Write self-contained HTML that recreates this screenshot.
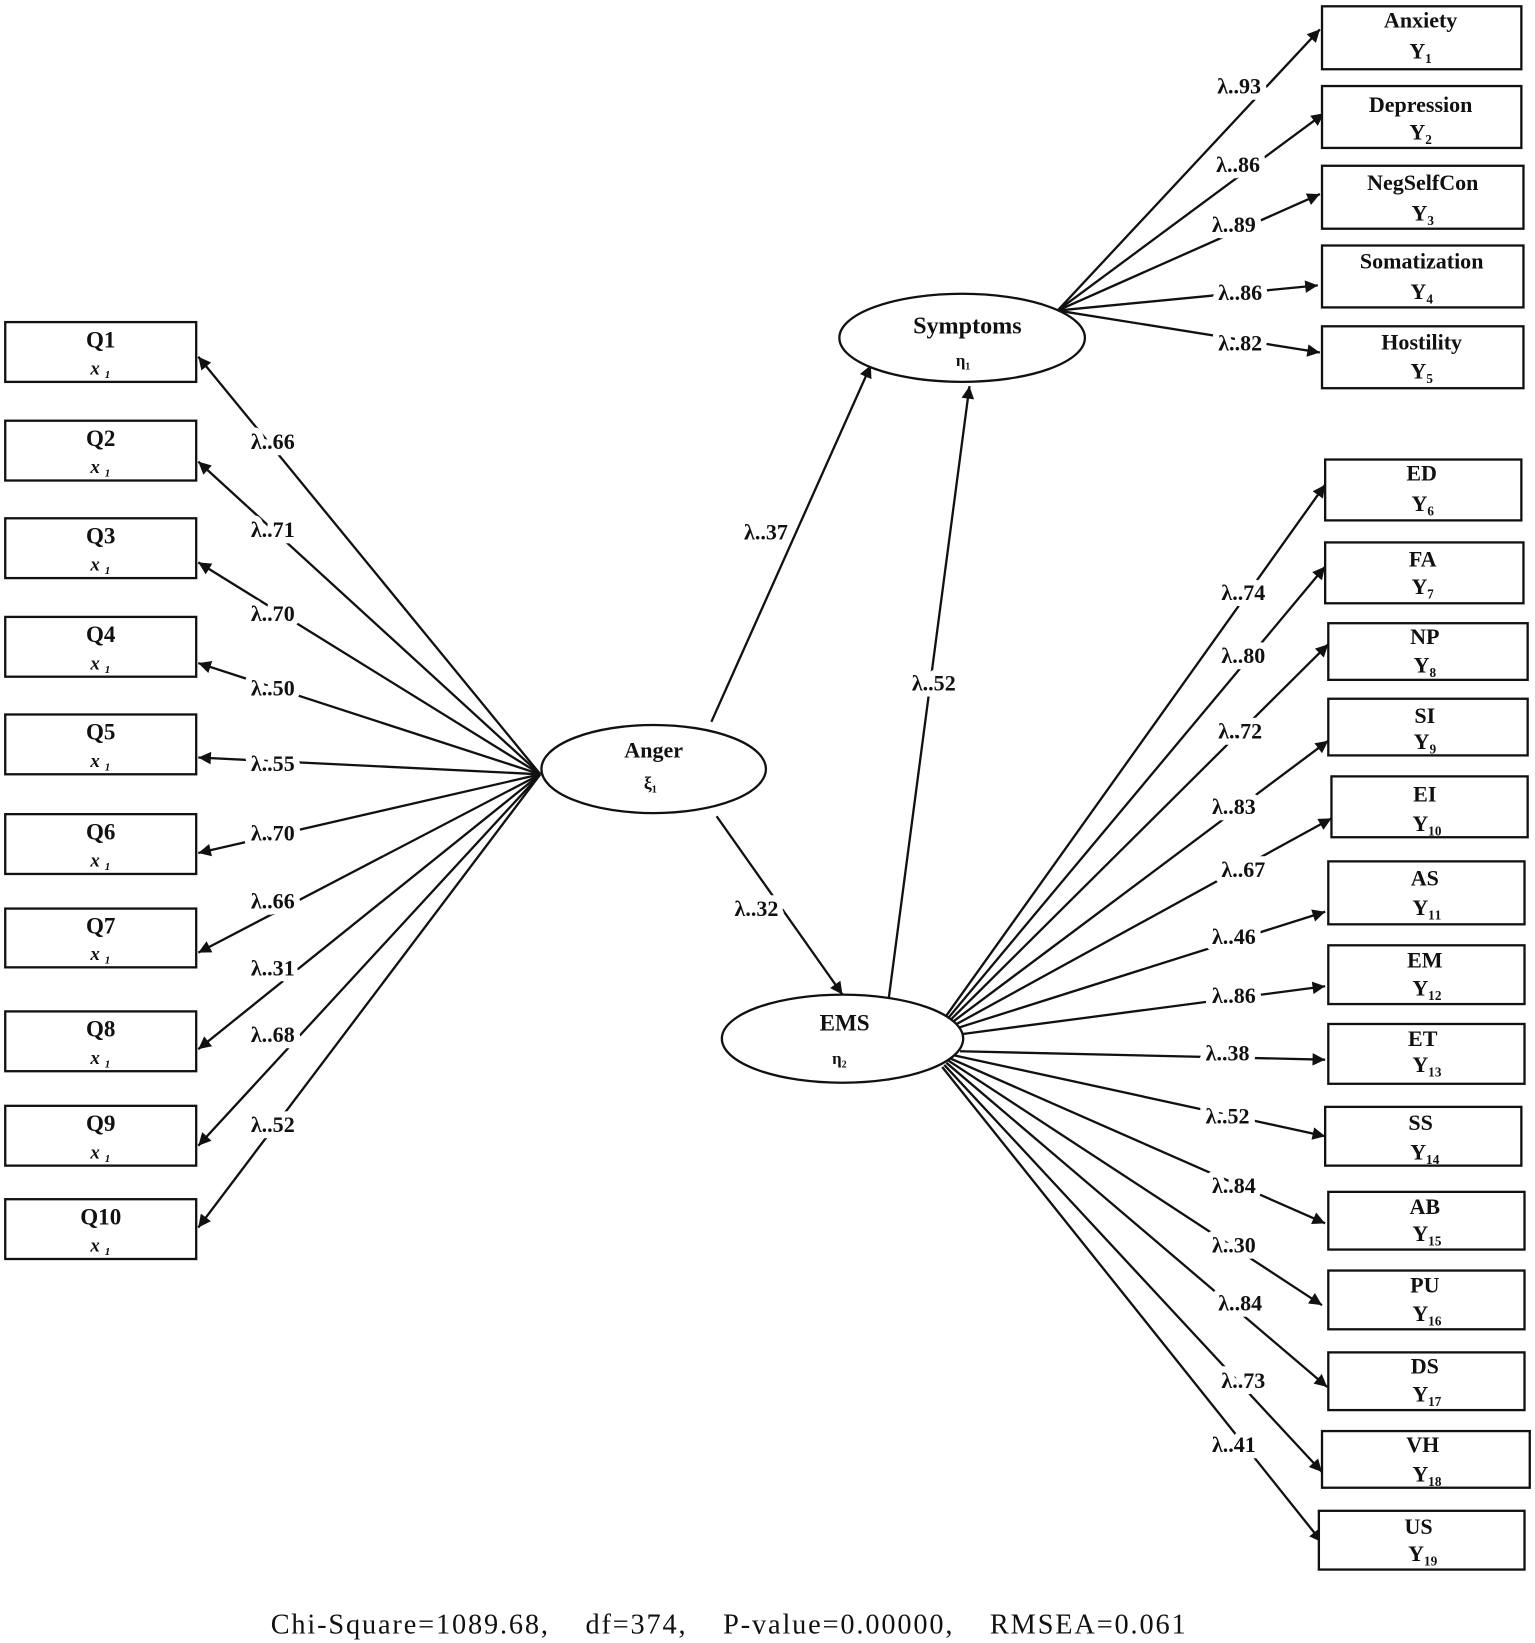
<!DOCTYPE html>
<html><head><meta charset="utf-8"><style>
html,body{margin:0;padding:0;background:#fff;}
svg{display:block}
text{font-family:"Liberation Serif",serif;font-weight:bold;fill:#111;}
</style></head><body>
<svg width="1535" height="1643" viewBox="0 0 1463 1566" preserveAspectRatio="none" xmlns="http://www.w3.org/2000/svg">
<defs>
<marker id="b" viewBox="0 0 10 10" refX="10" refY="5" markerWidth="14" markerHeight="12" markerUnits="userSpaceOnUse" orient="auto"><path d="M0,0L10,5L0,10z" fill="#111"/></marker></defs>
<g stroke="#111" stroke-width="2.2" fill="none">
<line x1="515" y1="738" x2="189" y2="340" marker-end="url(#b)"/>
<line x1="515" y1="738" x2="189" y2="440" marker-end="url(#b)"/>
<line x1="515" y1="738" x2="189" y2="536" marker-end="url(#b)"/>
<line x1="515" y1="738" x2="189" y2="632" marker-end="url(#b)"/>
<line x1="515" y1="738" x2="189" y2="722" marker-end="url(#b)"/>
<line x1="515" y1="738" x2="189" y2="813" marker-end="url(#b)"/>
<line x1="515" y1="738" x2="189" y2="908" marker-end="url(#b)"/>
<line x1="515" y1="738" x2="189" y2="1000" marker-end="url(#b)"/>
<line x1="515" y1="738" x2="189" y2="1092" marker-end="url(#b)"/>
<line x1="515" y1="738" x2="189" y2="1170" marker-end="url(#b)"/>
<line x1="678" y1="688" x2="830" y2="348" marker-end="url(#b)"/>
<line x1="683" y1="778" x2="803" y2="948" marker-end="url(#b)"/>
<line x1="847" y1="952" x2="924" y2="368" marker-end="url(#b)"/>
<line x1="1008" y1="296" x2="1258" y2="28" marker-end="url(#b)"/>
<line x1="1008" y1="296" x2="1262" y2="108" marker-end="url(#b)"/>
<line x1="1008" y1="296" x2="1258" y2="185" marker-end="url(#b)"/>
<line x1="1008" y1="296" x2="1256" y2="272" marker-end="url(#b)"/>
<line x1="1008" y1="296" x2="1258" y2="336" marker-end="url(#b)"/>
<line x1="902" y1="968" x2="1263" y2="462" marker-end="url(#b)"/>
<line x1="904" y1="970" x2="1263" y2="540" marker-end="url(#b)"/>
<line x1="906" y1="972" x2="1266" y2="614" marker-end="url(#b)"/>
<line x1="908" y1="974" x2="1266" y2="706" marker-end="url(#b)"/>
<line x1="910" y1="977" x2="1269" y2="780" marker-end="url(#b)"/>
<line x1="912" y1="980" x2="1263" y2="869" marker-end="url(#b)"/>
<line x1="914" y1="986" x2="1263" y2="940" marker-end="url(#b)"/>
<line x1="915" y1="1002" x2="1263" y2="1010" marker-end="url(#b)"/>
<line x1="910" y1="1006" x2="1263" y2="1083" marker-end="url(#b)"/>
<line x1="906" y1="1009" x2="1263" y2="1166" marker-end="url(#b)"/>
<line x1="904" y1="1011" x2="1260" y2="1244" marker-end="url(#b)"/>
<line x1="902" y1="1013" x2="1265" y2="1322" marker-end="url(#b)"/>
<line x1="900" y1="1015" x2="1260" y2="1403" marker-end="url(#b)"/>
<line x1="898" y1="1017" x2="1260" y2="1470" marker-end="url(#b)"/>
<ellipse cx="623" cy="733" rx="107" ry="42" fill="#fff"/>
<ellipse cx="917" cy="322" rx="117" ry="42" fill="#fff"/>
<ellipse cx="803" cy="990" rx="115" ry="42" fill="#fff"/>
<rect x="5" y="307" width="182" height="57" fill="#fff"/>
<rect x="5" y="401" width="182" height="57" fill="#fff"/>
<rect x="5" y="494" width="182" height="57" fill="#fff"/>
<rect x="5" y="588" width="182" height="57" fill="#fff"/>
<rect x="5" y="681" width="182" height="57" fill="#fff"/>
<rect x="5" y="776" width="182" height="57" fill="#fff"/>
<rect x="5" y="866" width="182" height="56" fill="#fff"/>
<rect x="5" y="964" width="182" height="57" fill="#fff"/>
<rect x="5" y="1054" width="182" height="57" fill="#fff"/>
<rect x="5" y="1143" width="182" height="57" fill="#fff"/>
<rect x="1260" y="6" width="190" height="60" fill="#fff"/>
<rect x="1260" y="82" width="190" height="59" fill="#fff"/>
<rect x="1260" y="158" width="192" height="60" fill="#fff"/>
<rect x="1260" y="234" width="192" height="59" fill="#fff"/>
<rect x="1260" y="311" width="192" height="59" fill="#fff"/>
<rect x="1263" y="438" width="187" height="58" fill="#fff"/>
<rect x="1263" y="517" width="189" height="58" fill="#fff"/>
<rect x="1266" y="594" width="190" height="54" fill="#fff"/>
<rect x="1266" y="666" width="190" height="54" fill="#fff"/>
<rect x="1269" y="740" width="187" height="58" fill="#fff"/>
<rect x="1266" y="821" width="187" height="60" fill="#fff"/>
<rect x="1266" y="901" width="187" height="56" fill="#fff"/>
<rect x="1266" y="976" width="187" height="57" fill="#fff"/>
<rect x="1263" y="1055" width="187" height="56" fill="#fff"/>
<rect x="1266" y="1136" width="187" height="55" fill="#fff"/>
<rect x="1266" y="1211" width="187" height="56" fill="#fff"/>
<rect x="1266" y="1289" width="187" height="55" fill="#fff"/>
<rect x="1260" y="1364" width="198" height="54" fill="#fff"/>
<rect x="1257" y="1440" width="196" height="56" fill="#fff"/>
</g>
<g font-size="21" text-anchor="middle">
<g style="paint-order:stroke" stroke="#fff" stroke-width="12" stroke-linejoin="round">
<text x="260" y="428">λ..66</text><text x="260" y="512">λ..71</text><text x="260" y="592">λ..70</text>
<text x="260" y="663">λ..50</text><text x="260" y="735">λ..55</text><text x="260" y="801">λ..70</text>
<text x="260" y="866">λ..66</text><text x="260" y="930">λ..31</text><text x="260" y="993">λ..68</text>
<text x="260" y="1079">λ..52</text>
<text x="730" y="514">λ..37</text><text x="721" y="873">λ..32</text><text x="890" y="658">λ..52</text>
<text x="1181" y="89">λ..93</text><text x="1180" y="164">λ..86</text><text x="1176" y="221">λ..89</text>
<text x="1182" y="286">λ..86</text><text x="1182" y="334">λ..82</text>
<text x="1185" y="572">λ..74</text><text x="1185" y="632">λ..80</text><text x="1182" y="704">λ..72</text>
<text x="1176" y="776">λ..83</text><text x="1185" y="836">λ..67</text><text x="1176" y="900">λ..46</text>
<text x="1176" y="956">λ..86</text><text x="1170" y="1011">λ..38</text><text x="1170" y="1071">λ..52</text>
<text x="1176" y="1137">λ..84</text><text x="1176" y="1194">λ..30</text><text x="1182" y="1249">λ..84</text>
<text x="1185" y="1323">λ..73</text><text x="1176" y="1384">λ..41</text>
</g>
<text x="623" y="722">Anger</text><text x="620" y="752" font-size="17">ξ₁</text>
<text x="922" y="318" font-size="23">Symptoms</text><text x="918" y="349" font-size="16">η₁</text>
<text x="805" y="982" font-size="22">EMS</text><text x="800" y="1014" font-size="16">η₂</text>
</g>
<g text-anchor="middle" font-size="22">
<text x="96" y="331">Q1</text><text x="96" y="425">Q2</text><text x="96" y="518">Q3</text><text x="96" y="612">Q4</text>
<text x="96" y="705">Q5</text><text x="96" y="800">Q6</text><text x="96" y="890">Q7</text><text x="96" y="988">Q8</text>
<text x="96" y="1078">Q9</text><text x="96" y="1167">Q10</text>
</g>
<g text-anchor="middle" font-size="18" font-style="italic" style="font-weight:normal">
<text x="96" y="357">x ₁</text><text x="96" y="451">x ₁</text><text x="96" y="544">x ₁</text><text x="96" y="638">x ₁</text>
<text x="96" y="731">x ₁</text><text x="96" y="826">x ₁</text><text x="96" y="915">x ₁</text><text x="96" y="1014">x ₁</text>
<text x="96" y="1104">x ₁</text><text x="96" y="1193">x ₁</text>
</g>
<g text-anchor="middle" font-size="21">
<text x="1354" y="26">Anxiety</text><text x="1354" y="56">Y₁</text>
<text x="1354" y="107">Depression</text><text x="1354" y="133">Y₂</text>
<text x="1356" y="181">NegSelfCon</text><text x="1356" y="210">Y₃</text>
<text x="1355" y="256">Somatization</text><text x="1355" y="285">Y₄</text>
<text x="1355" y="333">Hostility</text><text x="1355" y="361">Y₅</text>
<text x="1355" y="458">ED</text><text x="1356" y="487">Y₆</text>
<text x="1356" y="540">FA</text><text x="1356" y="566">Y₇</text>
<text x="1358" y="614">NP</text><text x="1358" y="641">Y₈</text>
<text x="1358" y="689">SI</text><text x="1358" y="714">Y₉</text>
<text x="1358" y="764">EI</text><text x="1360" y="792">Y₁₀</text>
<text x="1358" y="844">AS</text><text x="1360" y="872">Y₁₁</text>
<text x="1358" y="922">EM</text><text x="1360" y="949">Y₁₂</text>
<text x="1356" y="997">ET</text><text x="1360" y="1022">Y₁₃</text>
<text x="1354" y="1077">SS</text><text x="1358" y="1105">Y₁₄</text>
<text x="1358" y="1157">AB</text><text x="1360" y="1183">Y₁₅</text>
<text x="1358" y="1232">PU</text><text x="1360" y="1259">Y₁₆</text>
<text x="1358" y="1309">DS</text><text x="1360" y="1336">Y₁₇</text>
<text x="1356" y="1384">VH</text><text x="1360" y="1412">Y₁₈</text>
<text x="1352" y="1462">US</text><text x="1356" y="1488">Y₁₉</text>
</g>
<text x="258" y="1557" font-size="27" textLength="872" lengthAdjust="spacing" style="font-weight:normal" xml:space="preserve">Chi-Square=1089.68,    df=374,    P-value=0.00000,    RMSEA=0.061</text>
</svg>
</body></html>
